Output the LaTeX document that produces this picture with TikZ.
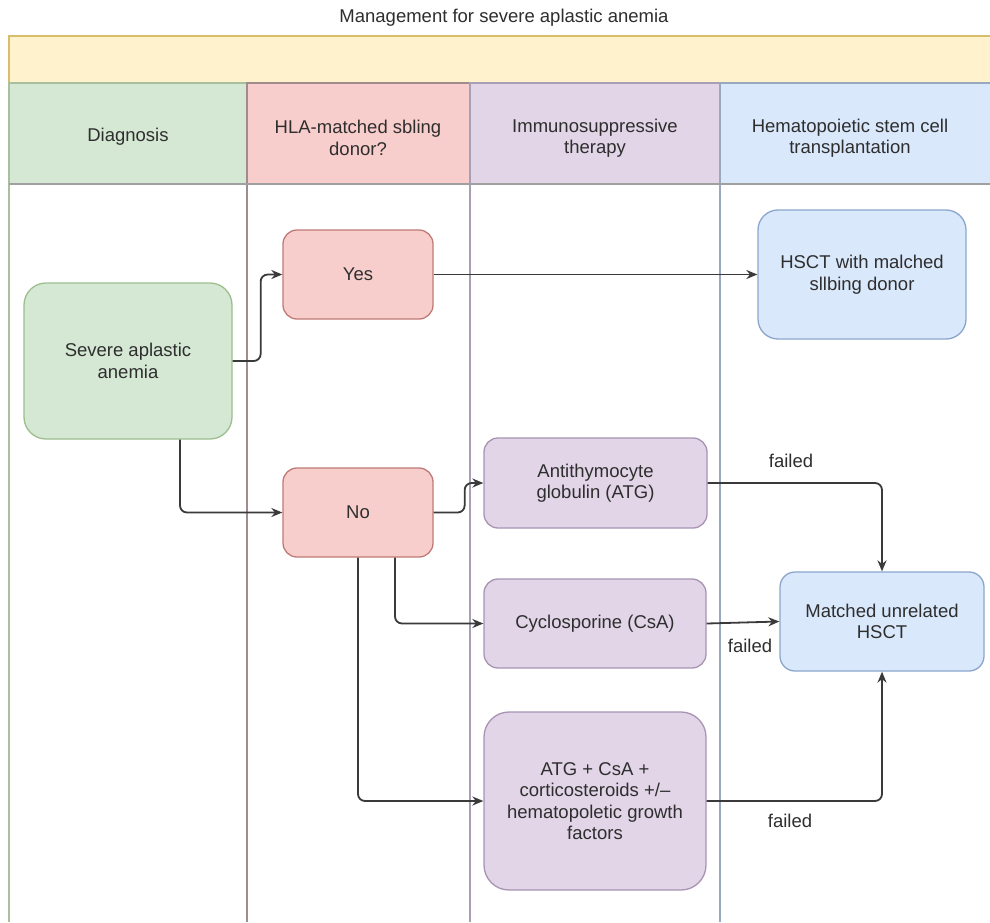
\documentclass[tikz,border=0pt]{standalone}
\usepackage{fontspec}
\setmainfont{Liberation Sans}
\usetikzlibrary{arrows.meta,calc}
\definecolor{txt}{HTML}{2E2E2E}
\definecolor{ln}{HTML}{3A3A3A}
\definecolor{gfill}{HTML}{D5E8D4}\definecolor{gdraw}{HTML}{9DBE8E}
\definecolor{rfill}{HTML}{F8CECC}\definecolor{rdraw}{HTML}{C07A76}
\definecolor{pfill}{HTML}{E1D5E7}\definecolor{pdraw}{HTML}{A893B3}
\definecolor{bfill}{HTML}{DAE8FC}\definecolor{bdraw}{HTML}{8BA6CC}
\definecolor{yfill}{HTML}{FFF2CC}\definecolor{ydraw}{HTML}{D8BE6A}
\definecolor{lgreen}{HTML}{A9C0A0}\definecolor{lred}{HTML}{A08C8C}
\definecolor{lpurp}{HTML}{A89EB6}\definecolor{lblue}{HTML}{98A8BE}
\definecolor{hline}{HTML}{A0A0A0}
\tikzset{
  every node/.style={text=txt, font=\fontsize{18.5}{21.5}\selectfont},
  box/.style={draw, line width=1.3pt, align=center, inner sep=0pt},
  gbox/.style={box, fill=gfill, draw=gdraw},
  rbox/.style={box, fill=rfill, draw=rdraw},
  pbox/.style={box, fill=pfill, draw=pdraw},
  bbox/.style={box, fill=bfill, draw=bdraw},
  arr/.style={draw=ln, line width=1.8pt, -{Stealth[length=11pt,width=9pt]}, rounded corners=7pt},
  lane/.style={line width=1.6pt},
  lbl/.style={inner sep=0pt},
}
\begin{document}
\begin{tikzpicture}[x=1pt,y=-1pt]
\useasboundingbox (0,0) rectangle (990,922);
\fill[white] (0,0) rectangle (990,922);
% title
\node[lbl] (title) at (504,18) {Management for severe aplastic anemia};
% yellow band
\draw[fill=yfill, draw=ydraw, lane] (9,36) rectangle (995,83);
% header cells
\draw[fill=gfill, draw=lgreen, lane] (9,83) rectangle (247,184);
\draw[fill=rfill, draw=lred, lane] (247,83) rectangle (470,184);
\draw[fill=pfill, draw=lpurp, lane] (470,83) rectangle (720,184);
\draw[fill=bfill, draw=lblue, lane] (720,83) rectangle (995,184);
\node[lbl, align=center] (h1) at (128,137) {Diagnosis};
\node[lbl, align=center] (h2) at (358,138) {HLA-matched sbling\\donor?};
\node[lbl, align=center] (h3) at (595,138) {Immunosuppressive\\therapy};
\node[lbl, align=center] (h4) at (850,138) {Hematopoietic stem cell\\transplantation};
% lane lines
\draw[lgreen, lane] (9,184) -- (9,922);
\draw[lred, lane] (247,184) -- (247,922);
\draw[lpurp, lane] (470,184) -- (470,922);
\draw[lblue, lane] (720,184) -- (720,922);
\draw[hline, lane] (9,184) -- (990,184);
% nodes
\node[gbox, rounded corners=22pt, minimum width=208pt, minimum height=156pt] (sev) at (128,361) {Severe aplastic\\anemia};
\node[rbox, rounded corners=14pt, minimum width=150pt, minimum height=89pt] (yes) at (358,274.5) {Yes};
\node[rbox, rounded corners=14pt, minimum width=150pt, minimum height=89pt] (no) at (358,512.5) {No};
\node[pbox, rounded corners=14pt, minimum width=223pt, minimum height=90pt] (atg) at (595.5,483) {Antithymocyte\\globulin (ATG)};
\node[pbox, rounded corners=14pt, minimum width=222pt, minimum height=89pt] (csa) at (595,623.5) {Cyclosporine (CsA)};
\node[pbox, rounded corners=25pt, minimum width=222pt, minimum height=178pt] (combo) at (595,801) {ATG + CsA +\\corticosteroids +/\textendash\\hematopoletic growth\\factors};
\node[bbox, rounded corners=20pt, minimum width=208pt, minimum height=129pt] (hsct) at (862,274.5) {HSCT with malched\\sllbing donor};
\node[bbox, rounded corners=15pt, minimum width=204pt, minimum height=99pt] (mu) at (882,621.5) {Matched unrelated\\HSCT};
% connectors
\draw[arr] (sev.east) -- ++(28,0) |- (yes.west);
\draw[arr] ([xshift=52pt]sev.south) |- (no.west);
\draw[arr] (yes.east) -- (hsct.west);
\draw[arr] (no.east) -- ++(31,0) |- (atg.west);
\draw[arr] ([xshift=37pt]no.south) |- (csa.west);
\draw[arr] (no.south) |- (combo.west);
\draw[arr] (atg.east) -| (mu.north);
\draw[arr] (csa.east) -- (mu.west);
\draw[arr] (combo.east) -| (mu.south);
% labels
\node[lbl] (f1) at (791,461) {failed};
\node[lbl] (f2) at (750,646) {failed};
\node[lbl] (f3) at (790,821) {failed};
\end{tikzpicture}
\end{document}
